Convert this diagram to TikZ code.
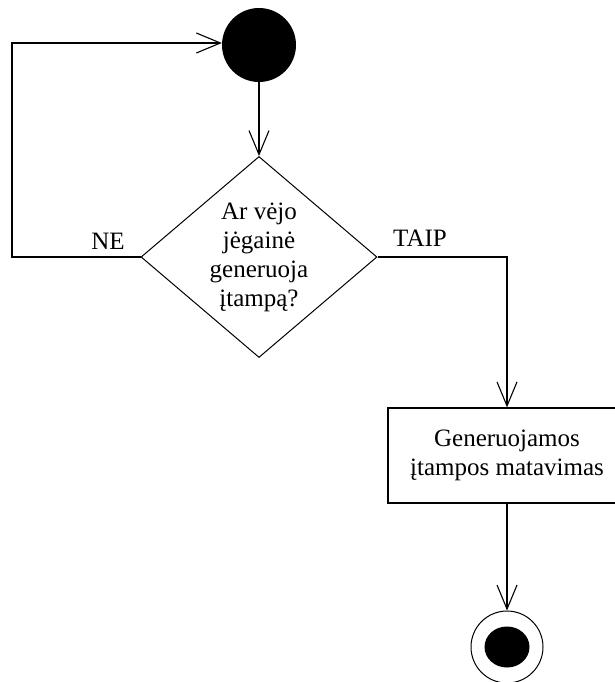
\documentclass[tikz,border=0pt]{standalone}
\usepackage{fontspec}
\setmainfont{Liberation Serif}
\usetikzlibrary{shapes.geometric,arrows.meta}
\begin{document}
\begin{tikzpicture}[x=1pt,y=-1pt,
  every node/.style={font=\fontsize{25}{29}\selectfont},
  flow/.style={line width=1.2pt,-{Straight Barb[length=24pt,width=20pt,line width=1.1pt]}},
  decision/.style={diamond,draw,line width=1pt,inner sep=0pt,aspect=1.17,
    minimum width=236pt,minimum height=201pt,align=center},
  action/.style={rectangle,draw,line width=1.3pt,minimum width=238pt,
    minimum height=95pt,align=center,inner sep=0pt},
  startnode/.style={circle,fill=black,minimum size=74pt,inner sep=0pt},
  endring/.style={circle,draw,line width=1pt,minimum size=72pt,inner sep=0pt},
  enddot/.style={ellipse,fill=black,minimum width=45pt,minimum height=41pt,inner sep=0pt},
  lbl/.style={inner sep=0pt}]
\useasboundingbox (0,0) rectangle (615,682);

\node[startnode] (start) at (259,45) {};
\node[decision] (dec) at (259,257) {Ar vėjo\\jėgainė\\generuoja\\įtampą?};
\node[action] (act) at (507,455.5) {Generuojamos\\įtampos matavimas};
\node[endring] (fin) at (507,647) {};
\node[enddot] (findot) at (507,647) {};

\coordinate (loopB) at (12,257);
\coordinate (loopT) at (12,43);
\coordinate (yesC) at (507,257);

\draw[flow] (start.south) -- (dec.north);
\draw[flow] (dec.west) -- (loopB) -- (loopT) -- (start.west |- loopT);
\draw[flow] (dec.east) -- (yesC) -- (act.north -| yesC);
\draw[flow] (act.south) -- (fin.north);

\node[lbl] (ne) at (108,241) {NE};
\node[lbl] (taip) at (420,238) {TAIP};
\end{tikzpicture}
\end{document}
